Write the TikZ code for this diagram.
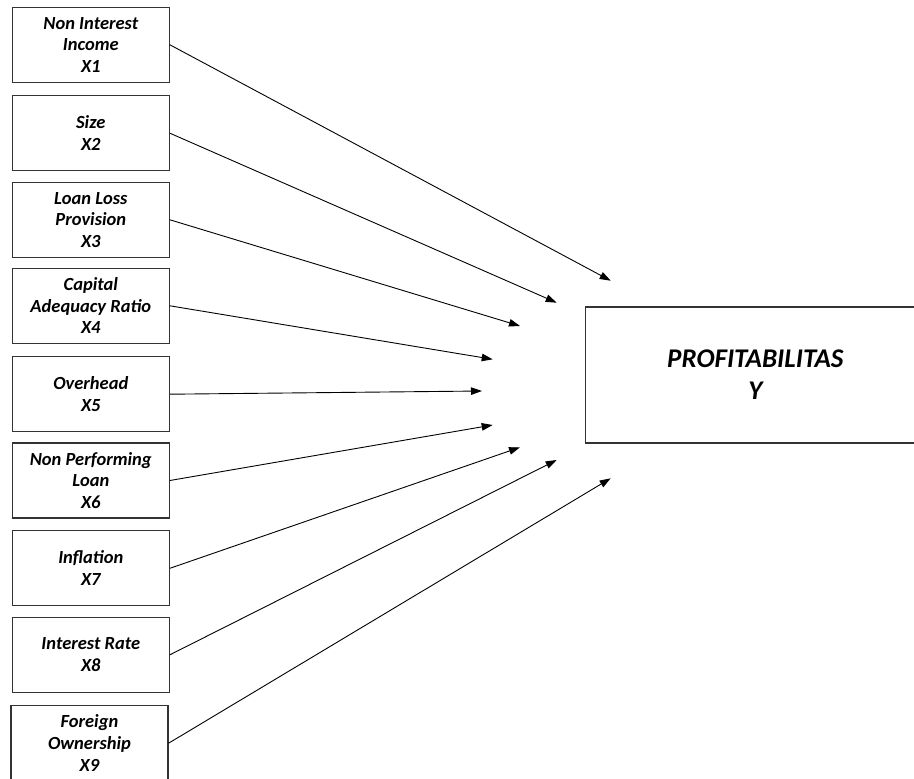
\documentclass[tikz,border=0pt]{standalone}
\usepackage{fontspec}
\setmainfont{Carlito}
\usetikzlibrary{arrows.meta}
\tikzset{
  varbox/.style={draw=black!80, line width=1.2pt, minimum width=157pt, minimum height=75pt,
    inner sep=0pt, align=center, font=\fontsize{18.5}{21.7}\selectfont\bfseries\itshape},
  mainbox/.style={draw=black!80, line width=1.4pt, minimum width=340pt, minimum height=136pt,
    inner sep=0pt, align=center, font=\fontsize{27}{32}\selectfont\bfseries\itshape},
  conn/.style={draw=black, line width=0.9pt, -{Triangle[length=11pt,width=7.5pt]}}
}
\begin{document}
\begin{tikzpicture}[x=1pt,y=-1pt]
\useasboundingbox (0,0) rectangle (914,779);
\node[varbox] (x1) at (90.8,44.8) {Non Interest\\Income\\X1};
\node[varbox] (x2) at (90.8,133.2) {Size\\X2};
\node[varbox] (x3) at (90.8,219.8) {Loan Loss\\Provision\\X3};
\node[varbox] (x4) at (90.8,305.8) {Capital\\Adequacy Ratio\\X4};
\node[varbox] (x5) at (90.8,394.2) {Overhead\\X5};
\node[varbox] (x6) at (90.8,480.5) {Non Performing\\Loan\\X6};
\node[varbox] (x7) at (90.8,568.3) {Inflation\\X7};
\node[varbox] (x8) at (90.8,654.8) {Interest Rate\\X8};
\node[varbox] (x9) at (89.5,743.2) {Foreign\\Ownership\\X9};
\node[mainbox] (y) at (755.3,375) {PROFITABILITAS\\Y};
\coordinate (e1) at (610.7,280.7);
\coordinate (e2) at (556.7,302.7);
\coordinate (e3) at (520,326);
\coordinate (e4) at (492.7,359.3);
\coordinate (e5) at (482,391);
\coordinate (e6) at (492.7,425);
\coordinate (e7) at (520,447.3);
\coordinate (e8) at (556.7,460);
\coordinate (e9) at (610.7,478.3);
\foreach \i in {1,...,9} { \draw[conn] (x\i.east) -- (e\i); }
\end{tikzpicture}
\end{document}
